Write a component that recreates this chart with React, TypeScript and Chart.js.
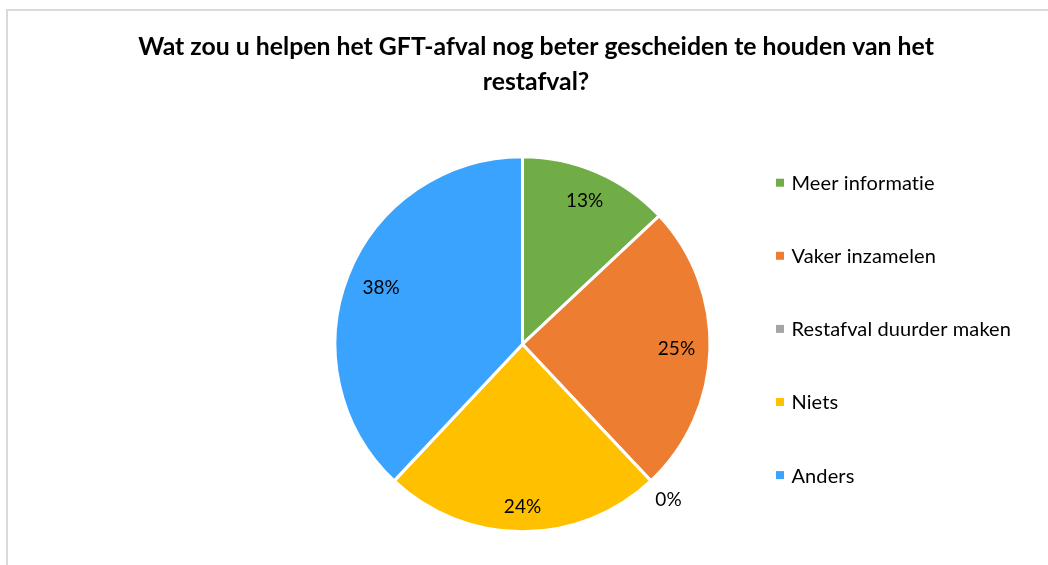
import React, { useEffect, useRef } from "react";
import { Chart, registerables } from "chart.js";

Chart.register(...registerables);

const TITLE_LINES = [
  "Wat zou u helpen het GFT-afval nog beter gescheiden te houden van het",
  "restafval?",
];
const CATEGORIES = [
  "Meer informatie",
  "Vaker inzamelen",
  "Restafval duurder maken",
  "Niets",
  "Anders",
];
const VALUES = [13, 25, 0, 24, 38];
const COLORS = ["#70AD47", "#ED7D31", "#A5A5A5", "#FFC000", "#3AA3FD"];

const FONT = "Lato, 'Open Sans', sans-serif";
const CANVAS_W = 1040;
const CANVAS_H = 554;
// canvas origin on the page
const OX = 8;
const OY = 11;

const overlayPlugin = {
  id: "overlay",
  afterDraw(chart: any) {
    const ctx: any = chart.ctx;
    ctx.save();

    // Title
    ctx.fillStyle = "#000";
    ctx.textAlign = "center";
    ctx.textBaseline = "alphabetic";
    ctx.font = `bold 24.8px ${FONT}`;
    TITLE_LINES.forEach((line, i) => {
      ctx.fillText(line, 536 - OX, 55 - OY + i * 35);
    });

    // Data labels
    const meta = chart.getDatasetMeta(0);
    ctx.font = `19px ${FONT}`;
    ctx.textAlign = "center";
    ctx.textBaseline = "middle";
    meta.data.forEach((arc: any, i: number) => {
      const v = VALUES[i];
      const text = `${v}%`;
      const a = (arc.startAngle + arc.endAngle) / 2;
      const R = arc.outerRadius;
      const hw = ctx.measureText(text).width / 2;
      const hh = 10;
      const extent = hw * Math.abs(Math.cos(a)) + hh * Math.abs(Math.sin(a));
      const d = v > 0 ? R - 14.5 - extent : R + 9.5 + extent;
      ctx.fillText(text, arc.x + Math.cos(a) * d, arc.y + Math.sin(a) * d);
    });

    // Legend
    ctx.font = `20px ${FONT}`;
    ctx.letterSpacing = "0.1px";
    ctx.textAlign = "left";
    ctx.textBaseline = "middle";
    CATEGORIES.forEach((label, i) => {
      const cy = 182.7 - OY + i * 73.1;
      ctx.fillStyle = COLORS[i];
      ctx.fillRect(776 - OX, cy - 4, 8, 8);
      ctx.fillStyle = "#000";
      ctx.fillText(label, 791.5 - OX, cy + 1);
    });

    ctx.restore();
  },
};

export default function App() {
  const ref = useRef<HTMLCanvasElement | null>(null);

  useEffect(() => {
    if (!ref.current) return;
    const chart = new Chart(ref.current, {
      type: "pie",
      data: {
        labels: CATEGORIES,
        datasets: [
          {
            data: VALUES,
            backgroundColor: COLORS,
            borderColor: "#ffffff",
            borderWidth: 3,
            radius: 187.5,
          } as any,
        ],
      },
      options: {
        responsive: false,
        animation: false,
        devicePixelRatio: 1,
        layout: { padding: { left: 300, right: 311, top: 130, bottom: 17.6 } },
        plugins: {
          legend: { display: false },
          title: { display: false },
          tooltip: { enabled: false },
        },
      },
      plugins: [overlayPlugin],
    });
    return () => chart.destroy();
  }, []);

  return (
    <div
      style={{
        position: "fixed",
        left: 6,
        top: 9,
        right: 0,
        bottom: 0,
        borderLeft: "2px solid #d9d9d9",
        borderTop: "2px solid #d9d9d9",
        background: "#fff",
        overflow: "hidden",
      }}
    >
      <canvas
        ref={ref}
        width={CANVAS_W}
        height={CANVAS_H}
        style={{ display: "block", width: CANVAS_W, height: CANVAS_H }}
      />
    </div>
  );
}
